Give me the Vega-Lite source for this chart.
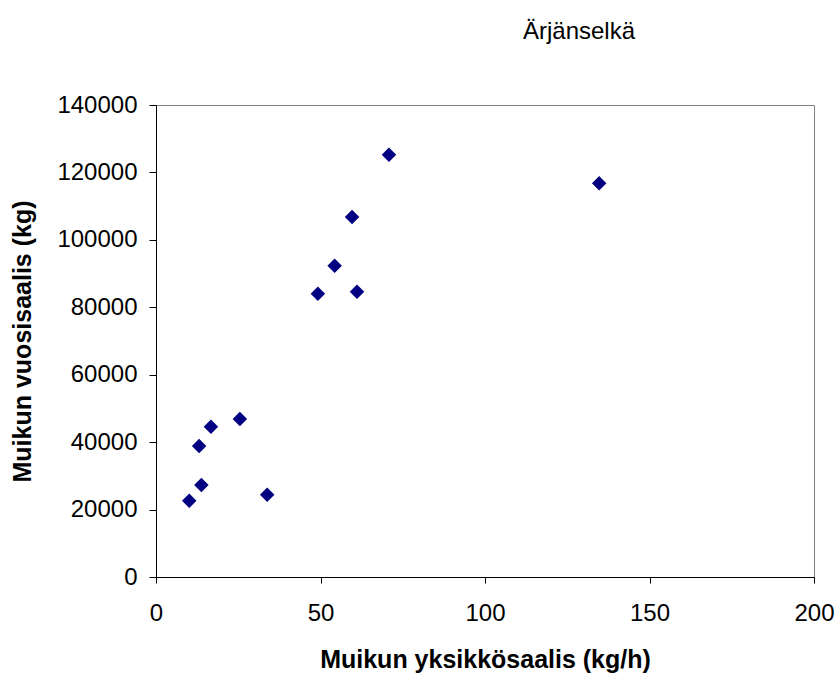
{
  "$schema": "https://vega.github.io/schema/vega-lite/v6.json",
  "autosize": {"type": "none"},
  "padding": {"left": 156, "top": 105, "right": 26, "bottom": 98},
  "width": 658,
  "height": 472,
  "background": "white",
  "config": {
    "font": "Liberation Sans",
    "view": {"stroke": "#808080", "strokeWidth": 1},
    "axis": {"grid": false, "domainColor": "black", "tickColor": "black", "labelColor": "black", "titleColor": "black", "labelFont": "Liberation Sans", "titleFont": "Liberation Sans"}
  },
  "title": {"text": "Ärjänselkä", "anchor": "middle", "dx": 94, "offset": 25, "fontSize": 24, "fontWeight": "normal", "font": "Liberation Sans", "color": "black", "baseline": "bottom"},
  "data": {"values": [
    {"x": 10.1, "y": 22630},
    {"x": 13.8, "y": 27290},
    {"x": 13.1, "y": 38860},
    {"x": 16.7, "y": 44580},
    {"x": 25.5, "y": 46860},
    {"x": 33.8, "y": 24410},
    {"x": 70.8, "y": 125260},
    {"x": 59.6, "y": 106780},
    {"x": 54.3, "y": 92330},
    {"x": 49.2, "y": 84030},
    {"x": 61.1, "y": 84620},
    {"x": 134.7, "y": 116770}
  ]},
  "mark": {"type": "point", "shape": "diamond", "filled": true, "color": "#000080", "size": 210, "opacity": 1},
  "encoding": {
    "x": {"field": "x", "type": "quantitative", "scale": {"domain": [0, 200], "nice": false, "zero": true},
      "axis": {"values": [0, 50, 100, 150, 200], "title": "Muikun yksikkösaalis (kg/h)", "labelFontSize": 24, "titleFontSize": 25, "titleFontWeight": "bold", "tickSize": 6, "labelPadding": 18, "titlePadding": 22, "labelFlush": false, "labelOverlap": false}},
    "y": {"field": "y", "type": "quantitative", "scale": {"domain": [0, 140000], "nice": false},
      "axis": {"values": [0, 20000, 40000, 60000, 80000, 100000, 120000, 140000], "format": "d", "title": "Muikun vuosisaalis (kg)", "labelFontSize": 24, "titleFontSize": 25, "titleFontWeight": "bold", "tickSize": 7, "labelPadding": 12, "titlePadding": 21, "labelFlush": false, "labelOverlap": false}}
  }
}
